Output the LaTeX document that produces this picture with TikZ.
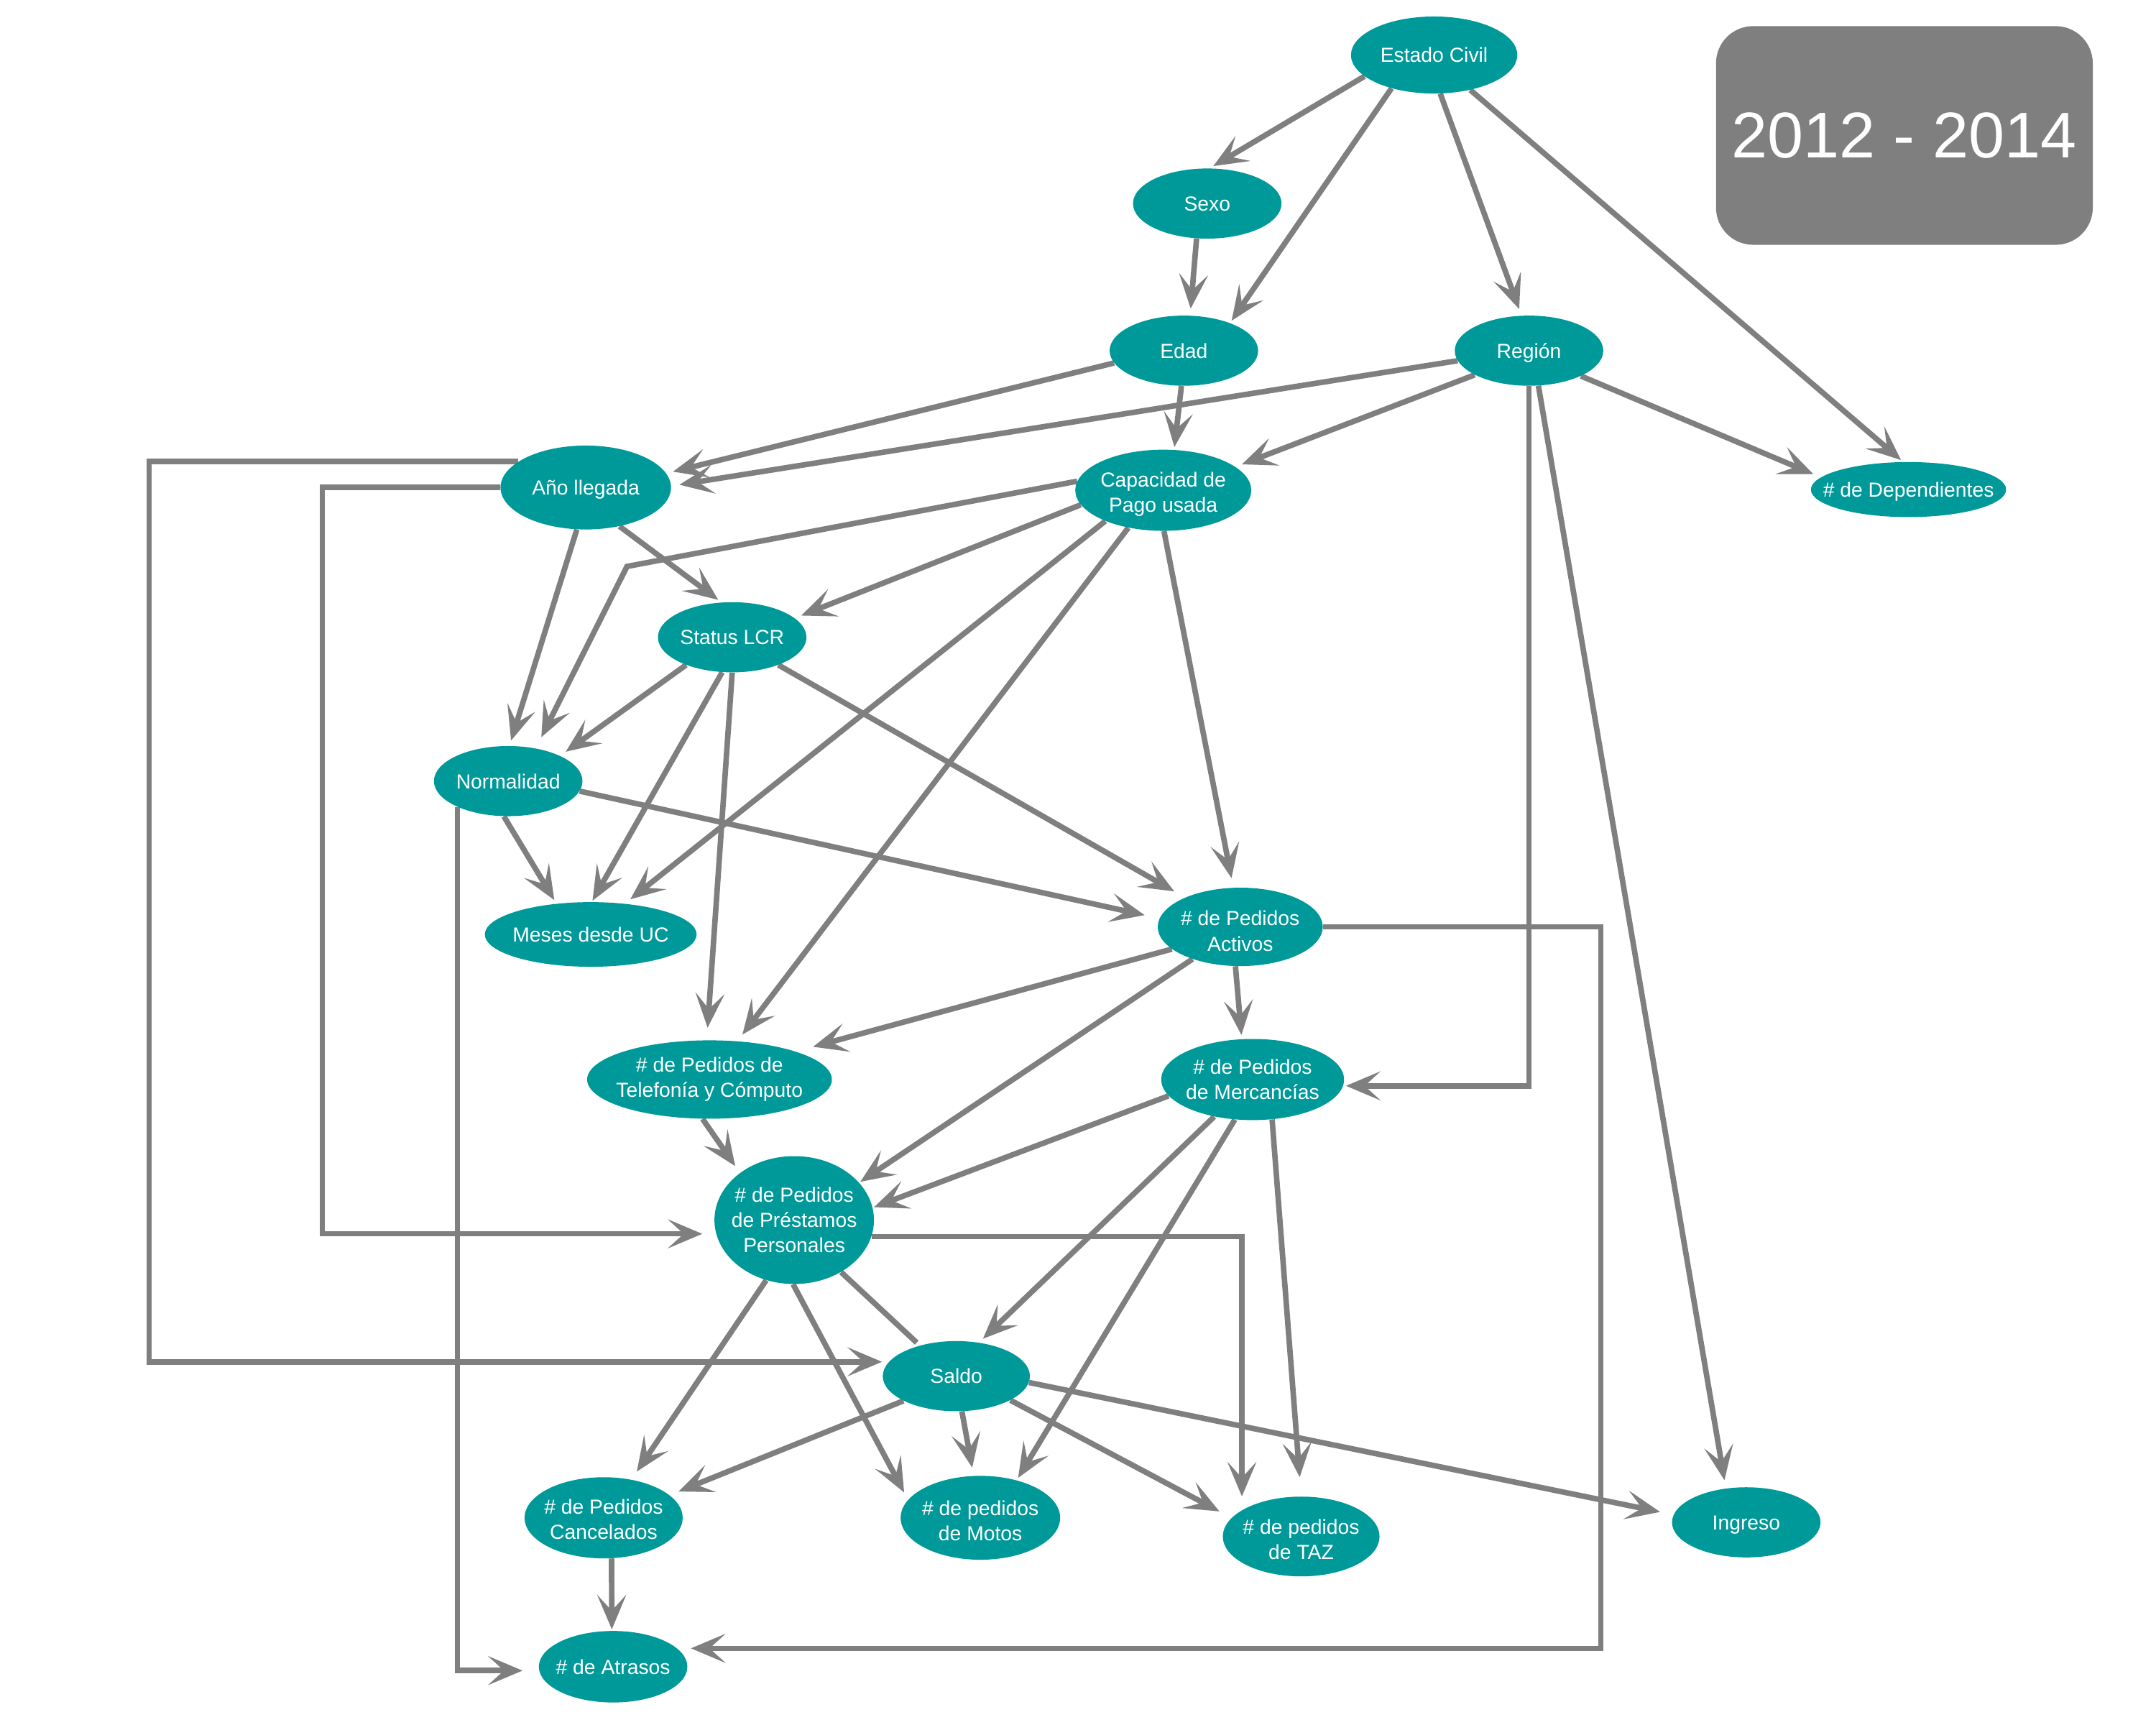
\documentclass[tikz,border=0pt]{standalone}
\usepackage{fontspec}
\setmainfont{Liberation Sans}
\usetikzlibrary{arrows.meta,shapes.geometric,backgrounds}
\definecolor{nodeteal}{RGB}{0,153,153}
\definecolor{lgray}{RGB}{127,127,127}
\newcommand{\lowerby}[1]{\rule{0pt}{#1}}
\tikzset{
  nd/.style={ellipse, fill=nodeteal, text=white, inner sep=-30pt, align=center,
    font=\fontsize{14.8}{18.3}\selectfont},
  one/.style={text height=10.8pt, text depth=0pt},
  con/.style={draw=lgray, line width=4pt},
  arr/.style={con, -{Stealth[length=25pt,width=21pt,inset=11.5pt]}},
  yearbox/.style={rectangle, rounded corners=27pt, fill=lgray, text=white, inner sep=0pt,
    minimum width=274pt, minimum height=159pt, font=\fontsize{47}{50}\selectfont},
}
\begin{document}
\begin{tikzpicture}[x=1pt,y=-1pt]
\useasboundingbox (0,0) rectangle (1568,1254);

% nodes
\node[nd, one, minimum width=121pt, minimum height=56pt] (ec) at (1043,40) {Estado Civil};
\node[nd, one, minimum width=108pt, minimum height=51pt] (sexo) at (878,148) {Sexo};
\node[nd, one, minimum width=108pt, minimum height=51pt] (edad) at (861,255) {Edad};
\node[nd, one, minimum width=108pt, minimum height=51pt] (region) at (1112,255) {Región};
\node[nd, one, minimum width=124pt, minimum height=61pt] (ano) at (426,354.5) {Año llegada};
\node[nd, minimum width=128pt, minimum height=59pt] (cap) at (846,356.5) {\lowerby{16.8pt}Capacidad de\\Pago usada};
\node[nd, one, minimum width=142pt, minimum height=40pt] (dep) at (1388,356) {\# de Dependientes};
\node[nd, one, minimum width=108pt, minimum height=51pt] (lcr) at (532.5,463.4) {Status LCR};
\node[nd, one, minimum width=108pt, minimum height=51pt] (norm) at (369.6,568) {Normalidad};
\node[nd, one, minimum width=154pt, minimum height=47pt] (meses) at (429.6,679.5) {Meses desde UC};
\node[nd, minimum width=120pt, minimum height=57pt] (act) at (902,674) {\lowerby{16.8pt}\# de Pedidos\\Activos};
\node[nd, minimum width=178pt, minimum height=57pt] (tel) at (516,785) {\# de Pedidos de\\Telefonía y Cómputo};
\node[nd, minimum width=133pt, minimum height=59pt] (merc) at (911,785) {\# de Pedidos\\de Mercancías};
\node[nd, minimum width=116pt, minimum height=93pt] (pres) at (577.6,887.2) {\# de Pedidos\\de Préstamos\\Personales};
\node[nd, one, minimum width=107pt, minimum height=51pt] (saldo) at (695.5,1000.7) {Saldo};
\node[nd, minimum width=115pt, minimum height=59pt] (canc) at (439,1103.7) {\lowerby{12.8pt}\# de Pedidos\\Cancelados};
\node[nd, minimum width=116pt, minimum height=61pt] (motos) at (713,1103.7) {\lowerby{14.8pt}\# de pedidos\\de Motos};
\node[nd, minimum width=114pt, minimum height=58pt] (taz) at (946.3,1117.3) {\lowerby{14.8pt}\# de pedidos\\de TAZ};
\node[nd, one, minimum width=108pt, minimum height=51pt] (ingreso) at (1270,1107) {Ingreso};
\node[nd, one, minimum width=108pt, minimum height=52pt] (atr) at (445.9,1212) {\# de Atrasos};
\node[yearbox] (year) at (1385,98.5) {2012 - 2014};

\begin{scope}[on background layer]
\fill[white] (0,0) rectangle (1568,1254);
% from Estado Civil
\draw[arr, shorten >=3pt] (ec.197) -- (sexo.86);
\draw[arr, shorten >=2pt] (ec.218) -- (edad.31);
\draw[arr, shorten >=5pt] (ec.279) -- (region.102);
\draw[arr, shorten >=2pt] (ec.316) -- (dep.101);
% Sexo, Edad
\draw[arr, shorten >=5pt] (sexo.253) -- (edad.80);
\draw[arr, shorten >=2pt] (edad.266) -- (cap.75);
\draw[arr, shorten >=5pt] (edad.190) -- (ano.10);
% Region
\draw[arr, shorten >=6pt] (region.188) -- (ano.1);
\draw[arr, shorten >=5pt] (region.204) -- (cap.18);
\draw[arr, shorten >=6pt] (region.334) -- (dep.172);
\draw[arr, shorten >=6pt] (region.285) -- (ingreso.121);
\draw[arr, shorten >=2pt] (region.270) |- (merc.356);
% Ano llegada
\draw[arr, shorten >=3pt] (ano.311) -- (lcr.107);
\draw[arr, shorten >=4pt] (ano.258) -- (norm.88);
\draw[arr, shorten >=5pt] (ano.159) -| (108.4,700) |- (saldo.168);
\draw[arr, shorten >=10pt] (ano.180) -| (234.5,600) |- (pres.190);
% Capacidad
\draw[arr, shorten >=9pt] (cap.174) -- (456,411.9) -- (norm.50);
\draw[arr, shorten >=5pt] (cap.190) -- (lcr.17);
\draw[arr, shorten >=5pt] (cap.208) -- (meses.42);
\draw[arr, shorten >=6pt] (cap.227) -- (tel.54);
\draw[arr, shorten >=7pt] (cap.271) -- (act.100);
% Status LCR
\draw[arr, shorten >=5pt] (lcr.211) -- (norm.26);
\draw[arr, shorten >=1pt] (lcr.254) -- (meses.88);
\draw[arr, shorten >=9pt] (lcr.270) -- (tel.94);
\draw[arr, shorten >=9pt] (lcr.329) -- (act.152);
% Normalidad
\draw[arr, shorten >=3pt] (norm.263) -- (meses.138);
\draw[arr, shorten >=11pt] (norm.352) -- (act.174);
\draw[arr, shorten >=12pt] (norm.207) |- (atr.183);
% Activos
\draw[arr, shorten >=13pt] (act.198) -- (tel.18);
\draw[arr, shorten >=1pt] (act.214) -- (pres.30);
\draw[arr, shorten >=3pt] (act.263) -- (merc.105);
\draw[arr, shorten >=10pt] (act.0) -| (1164.2,900) |- (atr.16);
% Telefonia, Mercancias
\draw[arr, shorten >=6pt] (tel.260) -- (pres.139);
\draw[arr, shorten >=1pt] (merc.191) -- (pres.9);
\draw[arr, shorten >=4pt] (merc.224) -- (saldo.56);
\draw[arr, shorten >=2pt] (merc.246) -- (motos.46);
\draw[arr, shorten >=14pt] (merc.296) -- (taz.90);
% Prestamos
\draw[con, shorten >=3pt] (pres.312) -- (saldo.140);
\draw[arr, shorten >=7pt] (pres.245) -- (canc.54);
\draw[arr, shorten >=6pt] (pres.269) -- (motos.166);
\draw[arr, shorten >=10pt] (pres.348) -| (taz.156);
% Saldo
\draw[arr, shorten >=7pt] (saldo.205) -- (canc.19);
\draw[arr, shorten >=6pt] (saldo.279) -- (motos.99);
\draw[arr, shorten >=10pt] (saldo.336) -- (taz.165);
\draw[arr, shorten >=10pt] (saldo.355) -- (ingreso.174);
% Cancelados
\draw[arr, shorten >=1pt] (canc.281) -- (atr.92);
\end{scope}
\end{tikzpicture}
\end{document}
